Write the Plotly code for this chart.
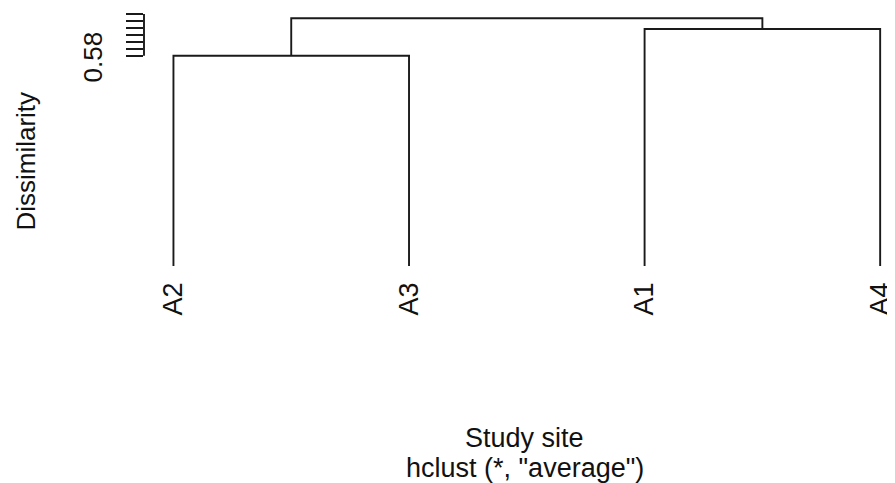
import plotly.graph_objects as go

# ---- data ----
leaf_labels = ["A2", "A3", "A1", "A4"]          # in dendrogram order
# merges: negative = leaf index in leaf_labels, positive = earlier merge id (1-based)
merge_left = [-1, -3, 1]
merge_right = [-2, -4, 2]
merge_height = [0.580, 0.6184, 0.6338]
leaf_height = 0.2774
y_tickvals = [0.58, 0.59, 0.60, 0.61, 0.62, 0.63, 0.64]
y_label_value = 0.58
y_label_text = "0.58"

# ---- build dendrogram segments ----
leaf_x = {i + 1: i + 1 for i in range(len(leaf_labels))}
node_x, node_y = {}, {}
xs, ys = [], []

def pos(ref):
    if ref < 0:
        return leaf_x[-ref], leaf_height
    return node_x[ref], node_y[ref]

for k, (a, b, h) in enumerate(zip(merge_left, merge_right, merge_height), start=1):
    xa, ya = pos(a)
    xb, yb = pos(b)
    xs += [xa, xa, xb, xb, None]
    ys += [ya, h, h, yb, None]
    node_x[k] = (xa + xb) / 2
    node_y[k] = h

line_col = "#1a1a1a"
fig = go.Figure()
fig.add_trace(go.Scatter(x=xs, y=ys, mode="lines",
                         line=dict(color=line_col, width=1.9),
                         hoverinfo="skip", showlegend=False, cliponaxis=False))

font = dict(family="Liberation Sans, Arial, sans-serif", color="#111111")

fig.update_layout(
    width=887, height=475,
    margin=dict(l=136, r=0, t=0, b=217),
    plot_bgcolor="white", paper_bgcolor="white",
    showlegend=False,
    xaxis=dict(range=[0.875, 4.046], showgrid=False, zeroline=False, showline=False,
               tickvals=list(range(1, len(leaf_labels) + 1)), ticktext=leaf_labels,
               tickangle=-90, ticks="", ticklabelstandoff=10, ticklabeloverflow="allow",
               tickfont=dict(size=27, **font)),
    yaxis=dict(range=[leaf_height, 0.6486], showgrid=False, zeroline=False, showline=False,
               tickvals=y_tickvals, ticktext=[""] * len(y_tickvals), ticks="outside", ticklen=17,
               tickwidth=1.7, tickcolor=line_col),
    shapes=[dict(type="line", xref="paper", yref="y", x0=0, x1=0,
                 y0=y_tickvals[0], y1=y_tickvals[-1],
                 line=dict(color=line_col, width=1.9))],
    annotations=[
        dict(text=y_label_text, xref="paper", yref="y", x=-0.0686, y=y_label_value,
             xanchor="center", yanchor="middle", yshift=-1,
             textangle=-90, showarrow=False, font=dict(size=26, **font)),
        dict(text="Dissimilarity", xref="paper", yref="paper", x=-0.1585, y=0.407,
             xanchor="center", yanchor="middle",
             textangle=-90, showarrow=False, font=dict(size=26, **font)),
        dict(text="Study site", xref="paper", yref="paper", x=0.51, y=-0.667,
             xanchor="center", yanchor="middle",
             showarrow=False, font=dict(size=27, **font)),
        dict(text='hclust (*, "average")', xref="paper", yref="paper", x=0.51, y=-0.783,
             xanchor="center", yanchor="middle",
             showarrow=False, font=dict(size=27, **font)),
    ],
)

fig.write_html("out.html")
